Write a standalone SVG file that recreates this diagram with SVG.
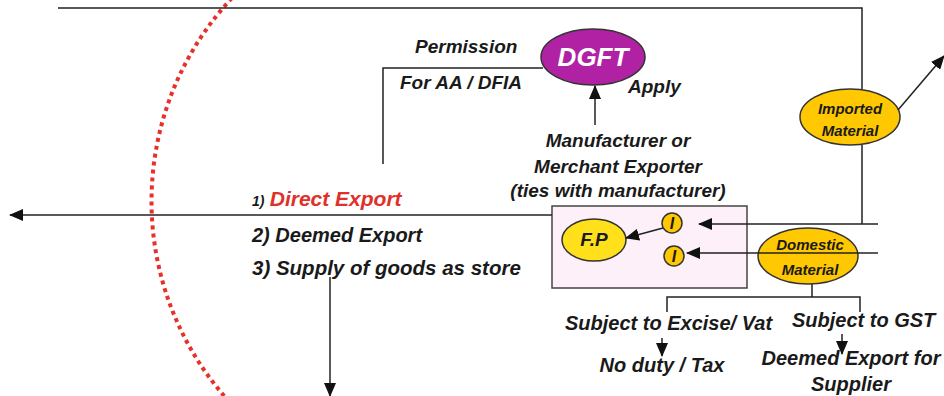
<svg xmlns="http://www.w3.org/2000/svg" width="944" height="396" viewBox="0 0 944 396">
<defs>
<style>
.t{font-family:"Liberation Sans",Arial,sans-serif;font-weight:bold;font-style:italic;fill:#1a1a1a;font-size:19px}
.c{text-anchor:middle}
.ln{fill:none;stroke:#222;stroke-width:1.5}
.arr{fill:none;stroke:#222;stroke-width:1.5;marker-end:url(#ah)}
.node{stroke:#333;stroke-width:1.5}
</style>
<marker id="ah" markerUnits="userSpaceOnUse" markerWidth="14" markerHeight="12" refX="13" refY="6" orient="auto">
<path d="M0,0 L14,6 L0,12 Z" fill="#111"/>
</marker>
</defs>
<rect width="944" height="396" fill="#fff"/>

<path d="M232,-2 A297,297 0 0 0 226,398" fill="none" stroke="#e8302a" stroke-width="4" stroke-dasharray="4,4"/>

<g id="box">
<rect x="552" y="206" width="195" height="82" fill="#fdf0f8" stroke="#444" stroke-width="1.5"/>
</g>

<g id="dgft">
<ellipse class="node" cx="593" cy="57" rx="52" ry="28" fill="#b022a3"/>
<text class="t c" x="593" y="66" style="font-size:26px;fill:#fff">DGFT</text>
</g>

<g id="imported">
<ellipse class="node" cx="850" cy="117" rx="50" ry="28" fill="#ffc800"/>
<text class="t c" x="850" y="114" style="font-size:15px">Imported</text>
<text class="t c" x="850" y="136" style="font-size:15px">Material</text>
</g>

<g id="domestic">
<ellipse class="node" cx="808" cy="256" rx="50" ry="28" fill="#ffc800"/>
<text class="t c" x="810" y="250" style="font-size:15px">Domestic</text>
<text class="t c" x="810" y="275" style="font-size:15px">Material</text>
</g>

<g id="fp">
<ellipse class="node" cx="594" cy="240" rx="32" ry="21" fill="#ffe01a"/>
<text class="t c" x="594" y="246">F.P</text>
</g>

<g id="i1">
<circle class="node" cx="672" cy="223" r="10" fill="#ffc800"/>
<text class="t c" x="672" y="229" style="font-size:16px">I</text>
</g>
<g id="i2">
<circle class="node" cx="674" cy="256" r="10" fill="#ffc800"/>
<text class="t c" x="674" y="262" style="font-size:16px">I</text>
</g>

<g id="connectors">
<path class="ln" d="M58,8 H862 V89 M862,145 V224"/>
<path class="arr" d="M878,224 H699"/>
<path class="arr" d="M878,253 H687"/>
<path class="arr" d="M898,110 L944,56"/>
<path class="ln" d="M543,68 H383 V164"/>
<path class="arr" d="M595,125 V86"/>
<path class="arr" d="M552,215 H10"/>
<path class="arr" d="M330,277 V396"/>
<path class="arr" d="M663,228 L626,238"/>
<path class="ln" d="M812,284 V297 M667,312 V297 H860 V312"/>
<path class="arr" d="M662,338 V356"/>
<path class="arr" d="M842,334 V354"/>
</g>

<g id="labels">
<text class="t" x="415" y="53">Permission</text>
<text class="t" x="400" y="89">For AA / DFIA</text>
<text class="t" x="628" y="93">Apply</text>
<text class="t c" x="618" y="147">Manufacturer or</text>
<text class="t c" x="618" y="173">Merchant Exporter</text>
<text class="t c" x="618" y="197">(ties with manufacturer)</text>
<text class="t" x="252" y="206"><tspan style="font-size:14px">1)</tspan> <tspan style="fill:#e0302a;font-size:21px">Direct Export</tspan></text>
<text class="t" x="252" y="242" style="font-size:20px">2) Deemed Export</text>
<text class="t" x="252" y="275" style="font-size:20.5px">3) Supply of goods as store</text>
<text class="t" x="565" y="330" style="font-size:20px">Subject to Excise/ Vat</text>
<text class="t" x="792" y="327" style="font-size:20px">Subject to GST</text>
<text class="t c" x="662" y="372" style="font-size:20px">No duty / Tax</text>
<text class="t c" x="851" y="365" style="font-size:20px">Deemed Export for</text>
<text class="t c" x="851" y="391" style="font-size:20px">Supplier</text>
</g>
</svg>
